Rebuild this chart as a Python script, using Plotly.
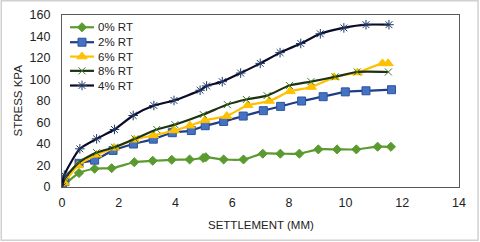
import plotly.graph_objects as go

# Data
x_0 = [0, 0.6, 1.15, 1.75, 2.55, 3.2, 3.87, 4.5, 4.98, 5.07, 5.7, 6.4, 7.08, 7.7, 8.37, 9.04, 9.7, 10.38, 11.13, 11.6]
y_0 = [0, 13, 17, 17.5, 23, 24.4, 25.3, 25.6, 27, 27.7, 25.6, 25.6, 31, 31, 31, 35, 35, 35, 37.5, 37.4]

x_2 = [0, 0.1, 0.6, 1.15, 1.8, 2.52, 3.22, 3.89, 4.56, 5.05, 5.7, 6.39, 7.1, 7.71, 8.45, 9.21, 9.99, 10.72, 11.62]
y_2 = [0, 5, 22, 25, 34, 40, 44.5, 50.5, 52.5, 57, 61, 66, 71, 75, 80, 84, 88.5, 89.5, 90.5]

x_6 = [0, 0.08, 0.57, 1.22, 1.84, 2.55, 3.22, 3.96, 4.51, 5.04, 5.81, 6.55, 7.31, 8.04, 8.79, 9.6, 10.42, 11.3, 11.5]
y_6 = [0, 4, 20, 30, 36.4, 44, 48, 52.5, 57, 62, 66, 76, 80, 89, 93, 102, 106.5, 115, 115]

x_8 = [0, 0.1, 0.6, 1.22, 1.85, 2.57, 3.34, 3.98, 4.98, 5.83, 6.5, 7.23, 8.02, 8.78, 9.63, 10.41, 11.51]
y_8 = [0, 8, 23, 32, 37, 44.8, 53.5, 58, 67.4, 76.7, 81.4, 85, 94.4, 98, 102.5, 107, 107]

x_4 = [0, 0.08, 0.63, 1.22, 1.85, 2.51, 3.24, 3.95, 4.87, 5.1, 5.65, 6.3, 6.99, 7.69, 8.42, 9.11, 9.94, 10.72, 11.53]
y_4 = [0, 11, 35.5, 44.8, 53.5, 66.5, 75.8, 80.5, 90, 94, 98, 106, 115, 125, 133.5, 142.5, 148, 151, 151]

series_names = ["0% RT", "2% RT", "6% RT", "8% RT", "4% RT"]
x_ticks = [0, 2, 4, 6, 8, 10, 12, 14]
y_ticks = [0, 20, 40, 60, 80, 100, 120, 140, 160]

styles = [
    dict(lc="#5A9A2E", mc="#5A9A2E", ml="#5A9A2E", sym="diamond", size=7),
    dict(lc="#1F3C88", mc="#4472C4", ml="#2F5597", sym="square", size=8),
    dict(lc="#FFC000", mc="#FFC000", ml="#FFC000", sym="triangle-up", size=9),
    dict(lc="#1C3210", mc="#3A7A2A", ml="#3A7A2A", sym="x-thin", size=7),
    dict(lc="#0A0A2A", mc="#1F3864", ml="#1F3864", sym="asterisk", size=8),
]
data = [(x_0, y_0), (x_2, y_2), (x_6, y_6), (x_8, y_8), (x_4, y_4)]

fig = go.Figure()
for (x, y), name, s in zip(data, series_names, styles):
    fig.add_trace(go.Scatter(
        x=x, y=y, name=name, mode="lines+markers", showlegend=False,
        line=dict(color=s["lc"], width=2.2, shape="spline", smoothing=0.6),
        marker=dict(symbol=s["sym"], size=s["size"], color=s["mc"],
                    line=dict(color=s["ml"], width=1)),
    ))

# Custom legend on a pixel-like overlay axis (plot area is 397 x 172.5 px)
leg_rows = [160.2, 145.2, 130.8, 116.5, 101.8]
for name, s, ry in zip(series_names, styles, leg_rows):
    fig.add_trace(go.Scatter(
        x=[8, 20, 32], y=[ry, ry, ry], mode="lines", xaxis="x2", yaxis="y2",
        showlegend=False, hoverinfo="skip",
        line=dict(color=s["lc"], width=2.2),
    ))
    fig.add_trace(go.Scatter(
        x=[20], y=[ry], mode="markers", xaxis="x2", yaxis="y2",
        showlegend=False, hoverinfo="skip",
        marker=dict(symbol=s["sym"], size=s["size"], color=s["mc"],
                    line=dict(color=s["ml"], width=1)),
    ))
    fig.add_annotation(x=33.5, y=ry, xref="x2", yref="y2", text=name,
                       showarrow=False, xanchor="left", yanchor="middle",
                       font=dict(family="Liberation Sans", size=11.5, color="#222222"))

axis_common = dict(
    showgrid=False, zeroline=False, showline=True, mirror=True,
    linecolor="#595959", linewidth=1.3, ticks="", automargin=False,
    tickfont=dict(family="Liberation Sans", size=12.5, color="#222222"),
)

fig.update_layout(
    width=480, height=242,
    margin=dict(l=62, r=21, t=15, b=54.5, autoexpand=False),
    paper_bgcolor="white", plot_bgcolor="white",
    xaxis=dict(range=[0, 14], tickvals=x_ticks, ticklabelstandoff=4, **axis_common),
    yaxis=dict(range=[0, 160], tickvals=y_ticks, ticklabelstandoff=8, **axis_common),
    xaxis2=dict(range=[0, 397], overlaying="x", visible=False, fixedrange=True),
    yaxis2=dict(range=[0, 172.5], overlaying="y", visible=False, fixedrange=True),
    showlegend=False,
    annotations=list(fig.layout.annotations) + [
        dict(text="SETTLEMENT (MM)", xref="paper", yref="paper", x=0.5, y=-0.22,
             xanchor="center", yanchor="middle", showarrow=False,
             font=dict(family="Liberation Sans", size=11.5, color="#222222")),
        dict(text="STRESS KPA", xref="paper", yref="paper", x=-0.112, y=0.5,
             xanchor="center", yanchor="middle", showarrow=False, textangle=-90,
             font=dict(family="Liberation Sans", size=11.5, color="#222222")),
    ],
    shapes=[dict(type="rect", xref="paper", yref="paper",
                 x0=-0.153, x1=1.048, y0=-0.31, y1=1.083,
                 line=dict(color="#D0D0D0", width=1.5))],
)

fig.write_html("out.html", config={"displayModeBar": False},
               post_script="document.body.style.margin='0';document.body.style.overflow='hidden';")
